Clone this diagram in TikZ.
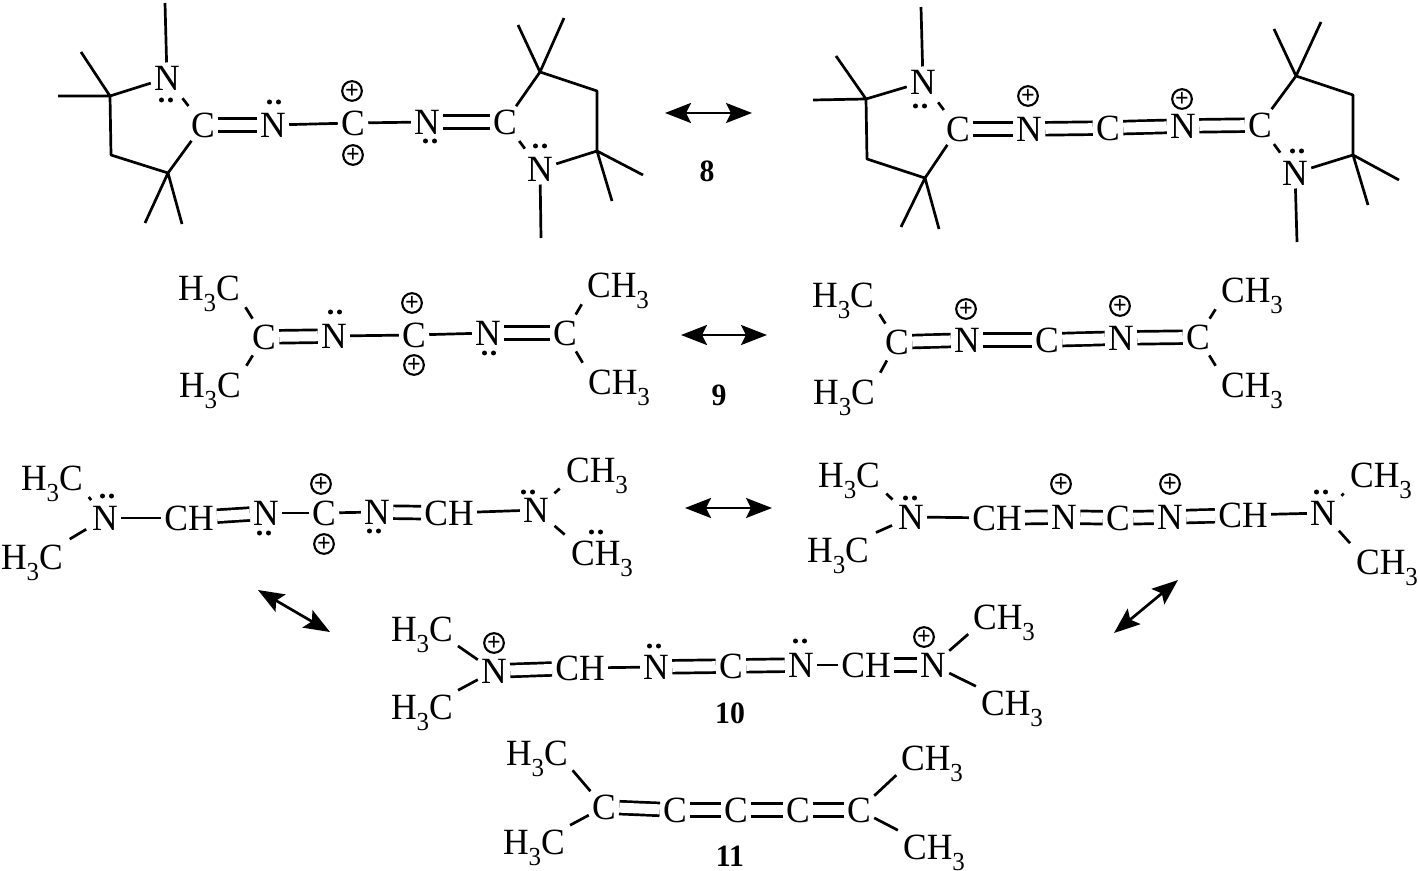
\documentclass[tikz,border=0pt]{standalone}
\usepackage{fontspec}
\setmainfont[FakeStretch=0.96]{Liberation Serif}
\usetikzlibrary{arrows.meta}
\newcommand{\subthree}{\smash{\raisebox{-.65ex}{\fontsize{13}{13}\selectfont 3}}}
\newcommand{\Hthree}{H\subthree C}
\newcommand{\Cthree}{CH\subthree}
\newcommand{\lonepair}[2]{\fill (#1-4.5,#2) circle (1.25pt) (#1+4.5,#2) circle (1.25pt);}
\tikzstyle{atom}=[inner sep=1.5pt,font=\fontsize{18.5}{20}\selectfont]
\tikzstyle{num}=[inner sep=0pt,font=\fontsize{15.5}{18}\selectfont\bfseries]
\tikzstyle{charge}=[circle,draw,line width=1.05pt,minimum size=9pt,inner sep=0pt,font=\fontsize{12.5}{12}\selectfont\bfseries]
\tikzstyle{bond}=[line width=1.35pt,line join=round]
\tikzstyle{mbond}=[bond,shorten <=1.5pt,shorten >=2pt]
\tikzstyle{dbond}=[bond,double,double distance=5pt]
\tikzstyle{res}=[line width=1.35pt,{Stealth[length=13pt,width=10pt,inset=2.5pt]}-{Stealth[length=13pt,width=10pt,inset=2.5pt]}]

\begin{document}
\begin{tikzpicture}[x=0.5pt,y=-0.5pt]
  \useasboundingbox (0,0) rectangle (1418,871);

  \node[atom] (aN1) at (167,78) {N};
  \node[atom] (aC1) at (203,125) {C};
  \node[atom] (aN2) at (273,125) {N};
  \node[atom] (aC2) at (353,123) {C};
  \node[atom] (aN3) at (427,122) {N};
  \node[atom] (aC3) at (505,122) {C};
  \node[atom] (aN4) at (540,169) {N};
  \node[charge] (aP1) at (352,91) {+};
  \node[charge] (aP2) at (353,155) {+};
  \coordinate (aMe1) at (165,3);
  \coordinate (aQ1) at (110,96);
  \coordinate (aQ1a) at (81,52);
  \coordinate (aQ1b) at (58,96);
  \coordinate (aR1) at (111,155);
  \coordinate (aQ2) at (168,173);
  \coordinate (aQ2a) at (145,223);
  \coordinate (aQ2b) at (182,224);
  \coordinate (aQ3) at (540,72);
  \coordinate (aQ3a) at (518,25);
  \coordinate (aQ3b) at (564,18);
  \coordinate (aR2) at (597,91);
  \coordinate (aQ4) at (597,151);
  \coordinate (aQ4a) at (643,175);
  \coordinate (aQ4b) at (612,201);
  \coordinate (aMe2) at (541,238);
  \draw[bond] (aMe1) -- (aN1);
  \draw[bond] (aN1) -- (aQ1) -- (aR1) -- (aQ2) -- (aC1);
  \draw[bond] (aQ1a) -- (aQ1) -- (aQ1b);
  \draw[bond] (aQ2a) -- (aQ2) -- (aQ2b);
  \draw[bond,shorten <=3pt,shorten >=2pt] (aN1) -- (aC1);
  \draw[dbond] (aC1) -- (aN2);
  \draw[bond] (aN2) -- (aC2);
  \draw[bond] (aC2) -- (aN3);
  \draw[dbond] (aN3) -- (aC3);
  \draw[bond] (aC3) -- (aQ3) -- (aR2) -- (aQ4) -- (aN4);
  \draw[bond] (aQ3a) -- (aQ3) -- (aQ3b);
  \draw[bond] (aQ4a) -- (aQ4) -- (aQ4b);
  \draw[bond,shorten <=2pt,shorten >=3pt] (aC3) -- (aN4);
  \draw[bond] (aN4) -- (aMe2);
  \lonepair{166}{100}
  \lonepair{274}{102}
  \lonepair{430}{141}
  \lonepair{540}{146}

  \node[atom] (bN1) at (923,82) {N};
  \node[atom] (bC1) at (958,129) {C};
  \node[atom] (bN2) at (1029,129) {N};
  \node[atom] (bC2) at (1108,128) {C};
  \node[atom] (bN3) at (1183,126) {N};
  \node[atom] (bC3) at (1260,125) {C};
  \node[atom] (bN4) at (1295,173) {N};
  \node[charge] (bP1) at (1028,96) {+};
  \node[charge] (bP2) at (1182,99) {+};
  \coordinate (bMe1) at (921,7);
  \coordinate (bQ1) at (866,99);
  \coordinate (bQ1a) at (836,56);
  \coordinate (bQ1b) at (813,100);
  \coordinate (bR1) at (867,159);
  \coordinate (bQ2) at (925,178);
  \coordinate (bQ2a) at (901,227);
  \coordinate (bQ2b) at (939,229);
  \coordinate (bQ3) at (1296,76);
  \coordinate (bQ3a) at (1274,29);
  \coordinate (bQ3b) at (1321,22);
  \coordinate (bR2) at (1353,95);
  \coordinate (bQ4) at (1353,155);
  \coordinate (bQ4a) at (1399,180);
  \coordinate (bQ4b) at (1368,205);
  \coordinate (bMe2) at (1297,242);
  \draw[bond] (bMe1) -- (bN1);
  \draw[bond] (bN1) -- (bQ1) -- (bR1) -- (bQ2) -- (bC1);
  \draw[bond] (bQ1a) -- (bQ1) -- (bQ1b);
  \draw[bond] (bQ2a) -- (bQ2) -- (bQ2b);
  \draw[bond,shorten <=3pt,shorten >=2pt] (bN1) -- (bC1);
  \draw[dbond] (bC1) -- (bN2);
  \draw[dbond] (bN2) -- (bC2);
  \draw[dbond] (bC2) -- (bN3);
  \draw[dbond] (bN3) -- (bC3);
  \draw[bond] (bC3) -- (bQ3) -- (bR2) -- (bQ4) -- (bN4);
  \draw[bond] (bQ3a) -- (bQ3) -- (bQ3b);
  \draw[bond] (bQ4a) -- (bQ4) -- (bQ4b);
  \draw[bond,shorten <=2pt,shorten >=3pt] (bC3) -- (bN4);
  \draw[bond] (bN4) -- (bMe2);
  \lonepair{920}{106}
  \lonepair{1297}{151}

  \coordinate (arr8a) at (665,113);
  \coordinate (arr8b) at (752,113);
  \draw[res] (arr8a) -- (arr8b);
  \node[num] (lab8) at (707,171) {8};

  \node[atom] (cH1) at (209,288) {\Hthree};
  \node[atom] (cH2) at (210,385) {\Hthree};
  \node[atom] (cC1) at (264,337) {C};
  \node[atom] (cN1) at (334,336) {N};
  \node[atom] (cC2) at (414,335) {C};
  \node[atom] (cN2) at (488,333) {N};
  \node[atom] (cC3) at (565,333) {C};
  \node[atom] (cM1) at (618,285) {\Cthree};
  \node[atom] (cM2) at (619,382) {\Cthree};
  \node[charge] (cP1) at (412,303) {+};
  \node[charge] (cP2) at (414,365) {+};
  \draw[mbond] (cC1) -- (cH1.south east);
  \draw[mbond] (cC1) -- (cH2.north east);
  \draw[dbond] (cC1) -- (cN1);
  \draw[bond] (cN1) -- (cC2);
  \draw[bond] (cC2) -- (cN2);
  \draw[dbond] (cN2) -- (cC3);
  \draw[mbond] (cC3) -- (cM1.south west);
  \draw[mbond] (cC3) -- (cM2.north west);
  \lonepair{335}{312}
  \lonepair{489}{353}

  \node[atom] (dH1) at (843,295) {\Hthree};
  \node[atom] (dH2) at (844,392) {\Hthree};
  \node[atom] (dC1) at (897,342) {C};
  \node[atom] (dN1) at (967,340) {N};
  \node[atom] (dC2) at (1047,340) {C};
  \node[atom] (dN2) at (1121,338) {N};
  \node[atom] (dC3) at (1198,337) {C};
  \node[atom] (dM1) at (1252,290) {\Cthree};
  \node[atom] (dM2) at (1252,385) {\Cthree};
  \node[charge] (dP1) at (966,309) {+};
  \node[charge] (dP2) at (1120,306) {+};
  \draw[mbond] (dC1) -- (dH1.south east);
  \draw[mbond] (dC1) -- (dH2.north east);
  \draw[dbond] (dC1) -- (dN1);
  \draw[dbond] (dN1) -- (dC2);
  \draw[dbond] (dC2) -- (dN2);
  \draw[dbond] (dN2) -- (dC3);
  \draw[mbond] (dC3) -- (dM1.south west);
  \draw[mbond] (dC3) -- (dM2.north west);

  \coordinate (arr9a) at (681,335);
  \coordinate (arr9b) at (767,335);
  \draw[res] (arr9a) -- (arr9b);
  \node[num] (lab9) at (719,395) {9};

  \node[atom] (eH1) at (52,478) {\Hthree};
  \node[atom] (eH2) at (32,557) {\Hthree};
  \node[atom] (eN1) at (105,518) {N};
  \node[atom] (eH3) at (189,518) {CH};
  \node[atom] (eN2) at (266,513) {N};
  \node[atom] (eC1) at (324,513) {C};
  \node[atom] (eN3) at (377,512) {N};
  \node[atom] (eH4) at (449,513) {CH};
  \node[atom] (eN4) at (536,510) {N};
  \node[atom] (eM1) at (597,470) {\Cthree};
  \node[atom] (eM2) at (602,553) {\Cthree};
  \node[charge] (eP1) at (321,484) {+};
  \node[charge] (eP2) at (324,544) {+};
  \draw[mbond] (eN1) -- (eH1.south east);
  \draw[mbond] (eN1) -- (eH2.north east);
  \draw[bond] (eN1) -- (eH3);
  \draw[dbond] (eH3) -- (eN2);
  \draw[bond] (eN2) -- (eC1);
  \draw[bond] (eC1) -- (eN3);
  \draw[dbond] (eN3) -- (eH4);
  \draw[bond] (eH4) -- (eN4);
  \draw[mbond] (eN4) -- (eM1.south west);
  \draw[mbond] (eN4) -- (eM2.north west);
  \lonepair{107}{496}
  \lonepair{264}{533}
  \lonepair{374}{531}
  \lonepair{528}{492}
  \lonepair{596}{532}

  \node[atom] (fH1) at (849,475) {\Hthree};
  \node[atom] (fH2) at (838,550) {\Hthree};
  \node[atom] (fN1) at (911,517) {N};
  \node[atom] (fH3) at (997,518) {CH};
  \node[atom] (fN2) at (1064,517) {N};
  \node[atom] (fC1) at (1118,518) {C};
  \node[atom] (fN3) at (1170,517) {N};
  \node[atom] (fH4) at (1243,515) {CH};
  \node[atom] (fN4) at (1323,513) {N};
  \node[atom] (fM1) at (1381,475) {\Cthree};
  \node[atom] (fM2) at (1387,562) {\Cthree};
  \node[charge] (fP1) at (1061,484) {+};
  \node[charge] (fP2) at (1170,484) {+};
  \draw[mbond] (fN1) -- (fH1.south east);
  \draw[mbond] (fN1) -- (fH2.north east);
  \draw[bond] (fN1) -- (fH3);
  \draw[dbond] (fH3) -- (fN2);
  \draw[dbond] (fN2) -- (fC1);
  \draw[dbond] (fC1) -- (fN3);
  \draw[dbond] (fN3) -- (fH4);
  \draw[bond] (fH4) -- (fN4);
  \draw[mbond] (fN4) -- (fM1.south west);
  \draw[mbond] (fN4) -- (fM2.north west);
  \lonepair{910}{498}
  \lonepair{1321}{492}

  \coordinate (arr10a) at (685,508);
  \coordinate (arr10b) at (772,508);
  \coordinate (arr10c) at (258,590);
  \coordinate (arr10d) at (330,632);
  \coordinate (arr10e) at (1178,580);
  \coordinate (arr10f) at (1114,633);
  \draw[res] (arr10a) -- (arr10b);
  \draw[res] (arr10c) -- (arr10d);
  \draw[res] (arr10e) -- (arr10f);

  \node[atom] (gH1) at (422,629) {\Hthree};
  \node[atom] (gH2) at (422,707) {\Hthree};
  \node[atom] (gN1) at (494,671) {N};
  \node[atom] (gH3) at (580,668) {CH};
  \node[atom] (gN2) at (656,667) {N};
  \node[atom] (gC1) at (731,666) {C};
  \node[atom] (gN3) at (801,665) {N};
  \node[atom] (gH4) at (866,665) {CH};
  \node[atom] (gN4) at (933,665) {N};
  \node[atom] (gM1) at (1004,617) {\Cthree};
  \node[atom] (gM2) at (1012,703) {\Cthree};
  \node[charge] (gP1) at (494,643) {+};
  \node[charge] (gP2) at (924,637) {+};
  \draw[bond,shorten >=1pt] (gN1) -- (gH1.south east);
  \draw[bond,shorten >=1pt] (gN1) -- (gH2.north east);
  \draw[dbond] (gN1) -- (gH3);
  \draw[bond] (gH3) -- (gN2);
  \draw[dbond] (gN2) -- (gC1);
  \draw[dbond] (gC1) -- (gN3);
  \draw[bond] (gN3) -- (gH4);
  \draw[dbond] (gH4) -- (gN4);
  \draw[bond,shorten >=1pt] (gN4) -- (gM1.south west);
  \draw[bond,shorten >=1pt] (gN4) -- (gM2.north west);
  \lonepair{654}{646}
  \lonepair{800}{641}
  \node[num] (lab10) at (730,713) {10};

  \node[atom] (hH1) at (537,753) {\Hthree};
  \node[atom] (hH2) at (534,842) {\Hthree};
  \node[atom] (hC1) at (604,807) {C};
  \node[atom] (hC2) at (675,810) {C};
  \node[atom] (hC3) at (736,810) {C};
  \node[atom] (hC4) at (798,810) {C};
  \node[atom] (hC5) at (859,810) {C};
  \node[atom] (hM1) at (932,758) {\Cthree};
  \node[atom] (hM2) at (934,847) {\Cthree};
  \draw[bond,shorten >=1pt] (hC1) -- (hH1.south east);
  \draw[bond,shorten >=1pt] (hC1) -- (hH2.north east);
  \draw[dbond] (hC1) -- (hC2);
  \draw[dbond] (hC2) -- (hC3);
  \draw[dbond] (hC3) -- (hC4);
  \draw[dbond] (hC4) -- (hC5);
  \draw[bond,shorten >=1pt] (hC5) -- (hM1.south west);
  \draw[bond,shorten >=1pt] (hC5) -- (hM2.north west);
  \node[num] (lab11) at (730,856) {11};
\end{tikzpicture}
\end{document}
